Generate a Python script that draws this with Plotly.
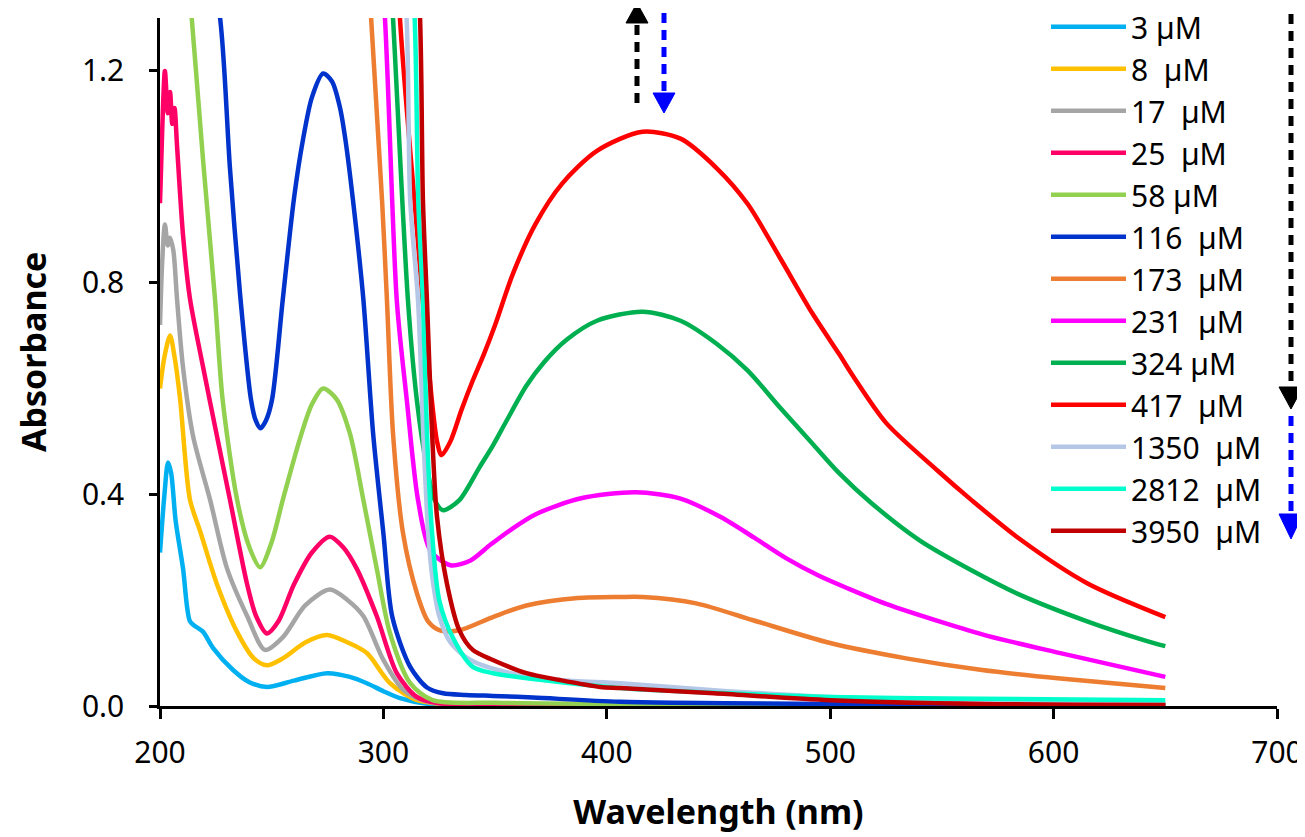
import plotly.graph_objects as go

# UV-vis titration spectra
wl_3 = [200, 202, 203.6, 205, 207, 210.3, 213.4, 216, 219.3, 223.7, 232.7, 240, 247.9, 260, 274.8, 285, 292.6, 300, 307.4, 320, 350, 450, 650]
ab_3 = [0.29, 0.40, 0.46, 0.44, 0.35, 0.26, 0.16, 0.15, 0.14, 0.11, 0.068, 0.045, 0.036, 0.048, 0.062, 0.055, 0.043, 0.028, 0.015, 0.004, 0.002, 0.001, 0.001]

wl_8 = [200, 202, 204.5, 206.5, 209, 213.4, 218, 225.5, 234.5, 242, 247.9, 255, 265, 274.8, 284, 292.6, 303, 315, 330, 450, 650]
ab_8 = [0.60, 0.66, 0.70, 0.66, 0.58, 0.39, 0.33, 0.23, 0.14, 0.09, 0.077, 0.09, 0.12, 0.134, 0.12, 0.10, 0.043, 0.011, 0.003, 0.001, 0.001]

wl_17 = [200, 201, 202.2, 203.5, 204.5, 206, 207.6, 210.3, 214.8, 222.4, 230, 239, 247, 255, 265, 276, 284, 291, 300, 309, 320, 400, 650]
ab_17 = [0.72, 0.84, 0.91, 0.87, 0.885, 0.86, 0.77, 0.64, 0.51, 0.39, 0.26, 0.17, 0.106, 0.13, 0.19, 0.22, 0.20, 0.17, 0.087, 0.03, 0.008, 0.002, 0.001]

wl_25 = [200, 201, 202.2, 203.5, 204.5, 205.5, 206.5, 207.6, 210.3, 213.4, 219.3, 225.5, 231.3, 239, 243, 247.9, 253, 260, 268, 276, 282, 288, 297, 306, 315, 325, 400, 650]
ab_25 = [0.95, 1.09, 1.20, 1.12, 1.16, 1.10, 1.13, 1.06, 0.89, 0.77, 0.64, 0.51, 0.39, 0.23, 0.17, 0.137, 0.16, 0.23, 0.29, 0.32, 0.30, 0.26, 0.17, 0.062, 0.017, 0.005, 0.002, 0.001]

wl_58 = [200, 214.2, 219.3, 224.6, 228, 234.5, 240, 244.8, 250, 255, 263, 268, 273, 279, 285, 291, 297, 303, 312, 322, 350, 400, 650]
ab_58 = [2.0, 1.30, 1.03, 0.77, 0.58, 0.39, 0.30, 0.262, 0.31, 0.39, 0.51, 0.57, 0.60, 0.58, 0.515, 0.39, 0.26, 0.137, 0.043, 0.011, 0.006, 0.004, 0.002]

wl_116 = [200, 215, 226.9, 231.3, 235.8, 240.7, 242.8, 245, 247.5, 250.2, 255, 260, 264, 268, 273, 277, 280.6, 283, 286.4, 291, 295.4, 300, 304, 312, 319.5, 326.7, 337, 349, 367, 406, 500, 650]
ab_116 = [2.5, 1.6, 1.30, 1.017, 0.78, 0.58, 0.54, 0.525, 0.54, 0.58, 0.77, 0.96, 1.07, 1.15, 1.195, 1.18, 1.13, 1.07, 0.955, 0.77, 0.515, 0.326, 0.168, 0.074, 0.035, 0.024, 0.021, 0.019, 0.016, 0.008, 0.004, 0.002]

wl_173 = [270, 285, 294.5, 299.4, 301.6, 304.3, 308.8, 315, 320, 325.3, 334, 349, 364, 387, 406, 416, 440, 465.5, 500, 534, 568, 603, 650]
ab_173 = [3.0, 2.0, 1.30, 0.955, 0.766, 0.515, 0.326, 0.213, 0.16, 0.143, 0.143, 0.168, 0.19, 0.204, 0.206, 0.206, 0.194, 0.162, 0.119, 0.09, 0.068, 0.052, 0.034]

wl_231 = [275, 290, 300.7, 306, 310.5, 315.5, 321, 330, 339, 348, 357, 368, 388, 413, 433, 451, 466, 480, 495, 508, 525, 551, 570, 603, 650]
ab_231 = [3.0, 2.0, 1.30, 0.766, 0.577, 0.389, 0.294, 0.266, 0.275, 0.305, 0.333, 0.362, 0.392, 0.404, 0.392, 0.357, 0.318, 0.28, 0.246, 0.222, 0.193, 0.157, 0.133, 0.10, 0.055]

wl_324 = [280, 295, 304.3, 311, 315, 319.5, 323, 326.7, 334, 343, 349, 355, 364, 372, 382, 395.6, 416, 433, 449, 463, 477.5, 492, 504, 518, 540, 563, 585, 615, 640, 650]
ab_324 = [3.0, 2.0, 1.30, 0.766, 0.577, 0.45, 0.389, 0.37, 0.389, 0.451, 0.492, 0.538, 0.605, 0.65, 0.692, 0.728, 0.745, 0.728, 0.685, 0.634, 0.564, 0.496, 0.44, 0.385, 0.313, 0.257, 0.21, 0.16, 0.125, 0.113]

wl_417 = [285, 300, 307.4, 315, 320, 324, 326, 330, 335, 340, 345, 350, 358, 368, 380, 395.6, 416, 433, 449, 463, 477.5, 492, 504, 510, 525, 548, 563, 585, 615, 650]
ab_417 = [3.0, 2.0, 1.30, 0.90, 0.65, 0.50, 0.474, 0.50, 0.56, 0.615, 0.665, 0.72, 0.817, 0.91, 0.987, 1.049, 1.085, 1.072, 1.017, 0.949, 0.847, 0.742, 0.665, 0.625, 0.535, 0.445, 0.39, 0.315, 0.232, 0.168]

wl_1350 = [290, 300, 310.4, 312, 315.5, 318, 320, 322, 325, 330, 339, 357, 379, 406, 448, 500, 551, 650]
ab_1350 = [3.0, 2.0, 1.30, 0.955, 0.766, 0.50, 0.33, 0.24, 0.17, 0.12, 0.087, 0.062, 0.049, 0.043, 0.03, 0.017, 0.011, 0.006]

wl_2812 = [295, 305, 314, 315.6, 317.7, 319.5, 321.8, 325, 331, 340, 349, 371, 406, 448, 500, 551, 650]
ab_2812 = [3.0, 2.0, 1.30, 0.955, 0.766, 0.515, 0.326, 0.20, 0.13, 0.074, 0.062, 0.049, 0.034, 0.025, 0.017, 0.014, 0.011]

wl_3950 = [298, 308, 316.4, 317.7, 319.5, 321.8, 324, 328.4, 334, 340, 349, 364, 379, 397, 406, 448, 500, 568, 650]
ab_3950 = [3.0, 2.0, 1.30, 0.955, 0.766, 0.515, 0.357, 0.232, 0.143, 0.106, 0.087, 0.062, 0.049, 0.036, 0.034, 0.024, 0.011, 0.004, 0.002]

labels = ["3 µM", "8\u00a0 µM", "17\u00a0 µM", "25\u00a0 µM", "58 µM", "116\u00a0 µM", "173\u00a0 µM",
          "231\u00a0 µM", "324 µM", "417\u00a0 µM", "1350\u00a0 µM", "2812\u00a0 µM", "3950\u00a0 µM"]
colors = ["#00B0F0", "#FFC000", "#A5A5A5", "#FF0066", "#92D050", "#0033CC", "#ED7D31",
          "#FF00FF", "#00B050", "#FF0000", "#B4C7E7", "#00FFCC", "#C00000"]

series = [(wl_3, ab_3), (wl_8, ab_8), (wl_17, ab_17), (wl_25, ab_25), (wl_58, ab_58),
          (wl_116, ab_116), (wl_173, ab_173), (wl_231, ab_231), (wl_324, ab_324),
          (wl_417, ab_417), (wl_1350, ab_1350), (wl_2812, ab_2812), (wl_3950, ab_3950)]

fig = go.Figure()
for (wl, ab), name, col in zip(series, labels, colors):
    fig.add_trace(go.Scatter(x=wl, y=ab, mode="lines", name=name,
                             line=dict(color=col, width=4.5, shape="spline", smoothing=0.8)))

# page body has an 8px margin, so the figure is shrunk by 8px and all
# window-pixel positions below are shifted by OFF
OFF = 8
W, H = 1305 - OFF, 837 - OFF
# plot area in window pixels: x 160..1277, y 18..706
L, R, T, B = 160, 1277, 18, 706


def px(xp):
    return (xp - L) / (R - L)


def py(yp):
    return (B - yp) / (B - T)


def dashed_arrow(x, y0, y1, tip, color, half=11):
    # dashed shaft from y0 to y1, triangle head from y1 to tip (window pixels)
    shp = [dict(type="line", xref="paper", yref="paper",
                x0=px(x), x1=px(x), y0=py(y0), y1=py(y1),
                line=dict(color=color, width=5, dash="10px,7px")),
           dict(type="path", xref="paper", yref="paper", fillcolor=color,
                line=dict(color=color, width=1),
                path="M %f,%f L %f,%f L %f,%f Z" % (px(x - half), py(y1), px(x + half), py(y1),
                                                    px(x), py(tip)))]
    return shp


shapes = []
shapes += dashed_arrow(637, 103, 23, 3, "black", 11)
shapes += dashed_arrow(664, 13, 93, 113, "#0000FF", 11)
shapes += dashed_arrow(1291, 14, 387, 409, "black", 12)
shapes += dashed_arrow(1291, 416, 514, 539, "#0000FF", 12)

fig.update_layout(
    width=W, height=H,
    margin=dict(l=L - OFF, r=W - (R - OFF), t=T - OFF, b=H - (B - OFF), autoexpand=False),
    plot_bgcolor="white", paper_bgcolor="white",
    font=dict(family="Noto Sans", color="black"),
    shapes=shapes,
    showlegend=True,
    legend=dict(x=px(1046), y=1.025, xanchor="left", yanchor="top",
                font=dict(family="Noto Sans", size=30, color="black"),
                bgcolor="rgba(0,0,0,0)", itemwidth=75, tracegroupgap=0,
                maxheight=800),
    xaxis=dict(range=[200, 700], tickvals=[200, 300, 400, 500, 600, 700],
               showline=True, linecolor="black", linewidth=2.5, mirror=False,
               ticks="outside", ticklen=10, tickwidth=2.5, tickcolor="black",
               tickfont=dict(size=30, family="Noto Sans"), showgrid=False, zeroline=False,
               layer="below traces", ticklabelstandoff=8,
               title=dict(text="<b>Wavelength (nm)</b>", font=dict(size=34, family="Noto Sans"),
                          standoff=30)),
    yaxis=dict(range=[0, 1.3], tickvals=[0, 0.4, 0.8, 1.2], tickformat=".1f",
               showline=True, linecolor="black", linewidth=2.5,
               ticks="outside", ticklen=8, tickwidth=2.5, tickcolor="black",
               tickfont=dict(size=30, family="Noto Sans"), showgrid=False, zeroline=False,
               layer="below traces", ticklabelstandoff=19),
    annotations=[dict(text="<b>Absorbance</b>", textangle=-90, showarrow=False,
                      xref="paper", yref="paper", x=px(33), y=py(352),
                      xanchor="center", yanchor="middle",
                      font=dict(size=34, family="Noto Sans", color="black"))],
)

fig.write_html("out.html")
